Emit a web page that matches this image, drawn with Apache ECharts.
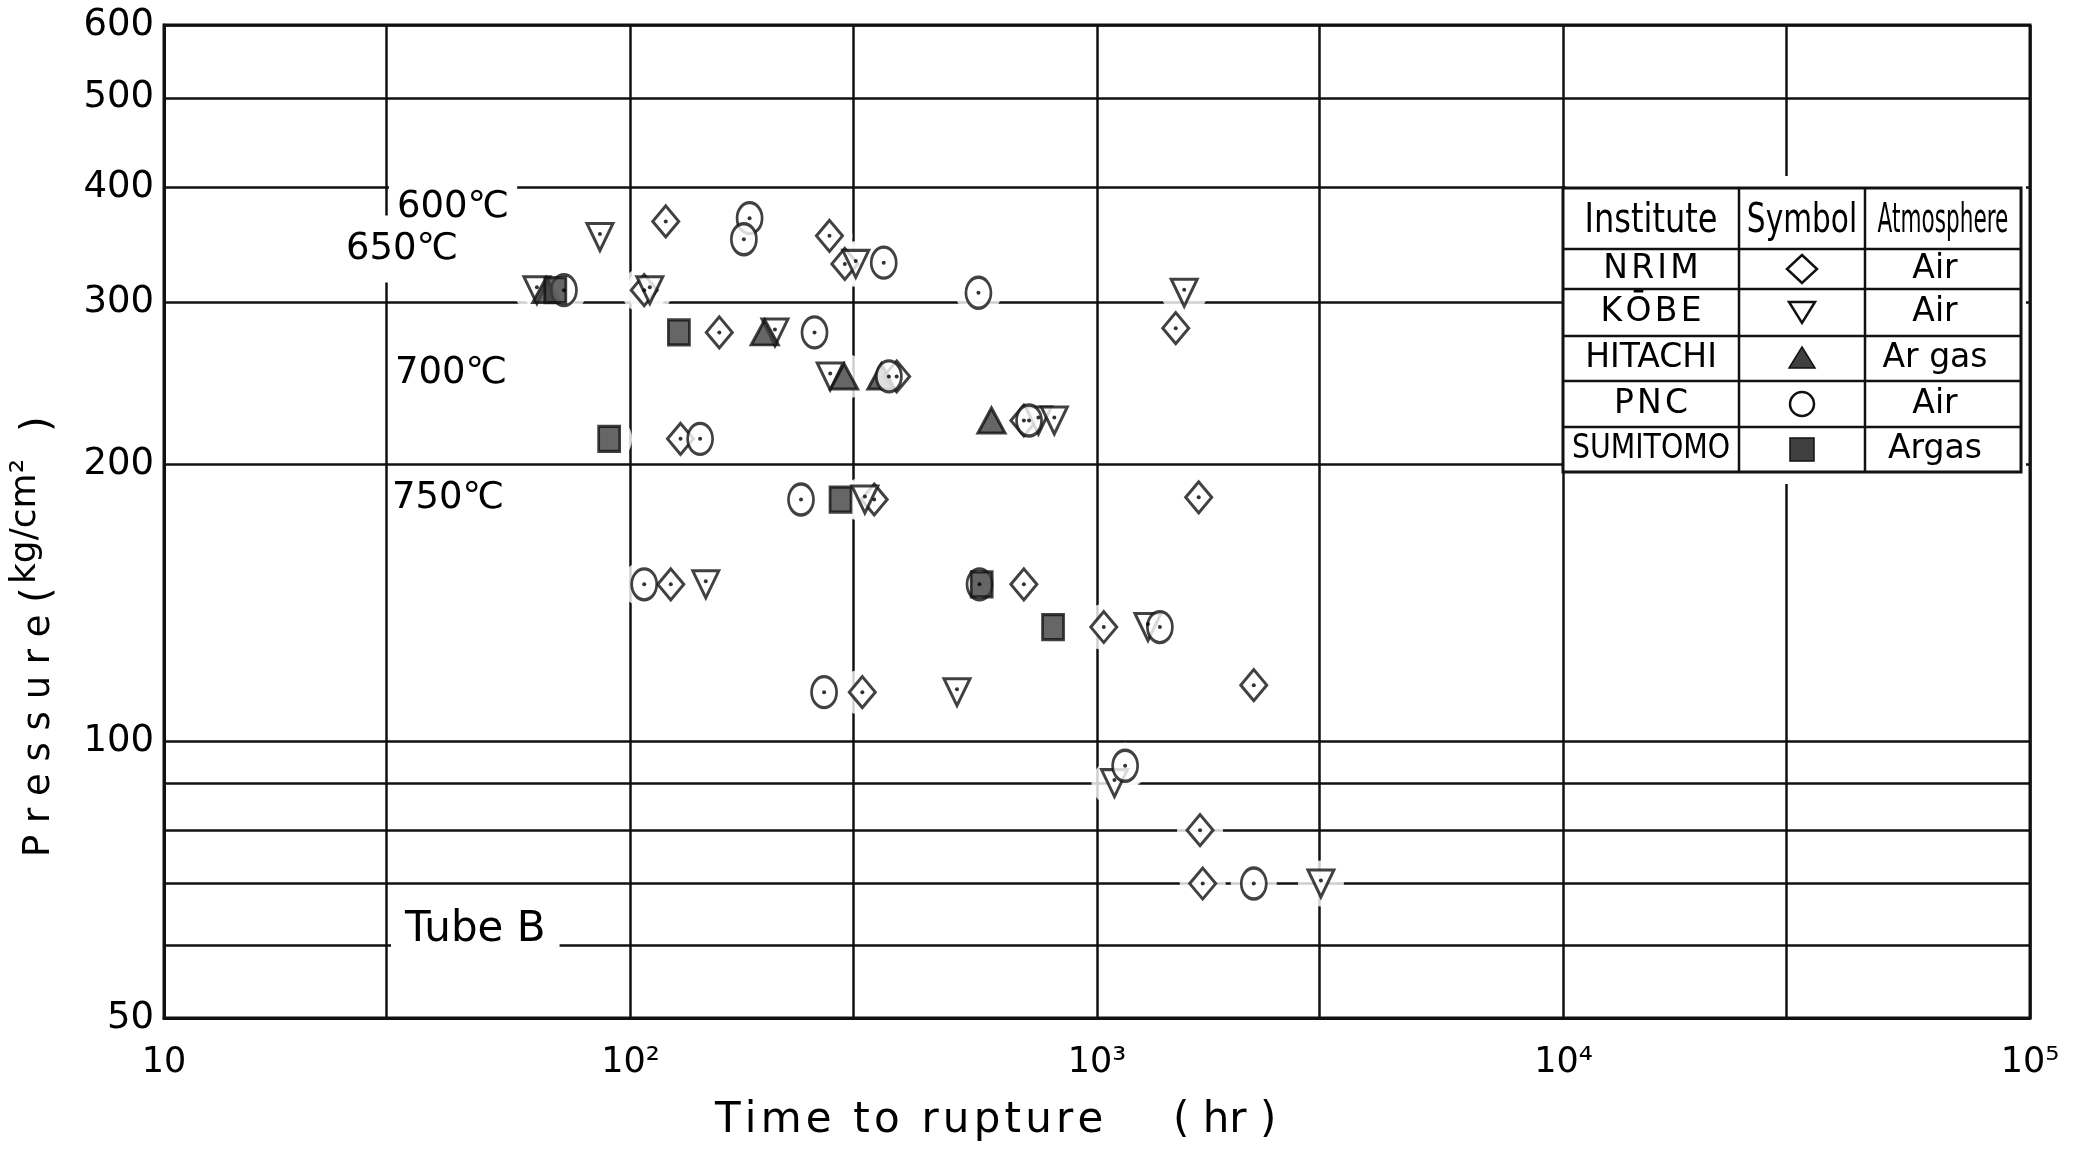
<!DOCTYPE html>
<html>
<head>
<meta charset="utf-8">
<script src="https://cdn.jsdelivr.net/npm/echarts@6/dist/echarts.min.js"></script>
<style>
  html, body { margin: 0; padding: 0; background: #fff; }
  #chart { width: 2076px; height: 1152px; }
</style>
</head>
<body>
<div id="chart"></div>
<script>
// time to rupture (hr), pressure (kg/cm2)
const nrim = [[119, 367], [267, 354], [288, 330], [107, 309], [1475, 281], [155, 278], [372, 249],
  [128, 213], [697, 223], [333, 183], [1652, 184], [122, 148], [697, 148], [1034, 133],
  [314, 113], [2168, 115], [1663, 80], [1685, 70]]
const kobe = [[86, 353], [304, 330], [63, 309], [110, 309], [1538, 307], [204, 278], [268, 249],
  [749, 223], [810, 223], [318, 183], [145, 148], [1286, 133], [501, 113], [1090, 90], [3020, 70]]
const hitachi = [[66, 309], [194, 278], [287, 249], [345, 249], [594, 223]]
const pnc = [[180, 370], [175, 351], [349, 331], [72, 309], [557, 307], [248, 278], [358, 249],
  [141, 213], [715, 223], [232, 183], [107, 148], [560, 148], [1364, 133], [260, 113],
  [1149, 94], [2168, 70]]
const sumitomo = [[69, 309], [127, 278], [90, 213], [282, 183], [566, 148], [805, 133]]

const xTickValues = [10, 30, 100, 300, 1000, 3000, 10000, 30000, 100000]
const xLabelValues = [10, 100, 1000, 10000, 100000]
const xTickLabels = ['10', '10²', '10³', '10⁴', '10⁵']
const yTickValues = [50, 60, 70, 80, 90, 100, 200, 300, 400, 500, 600]
const yLabelValues = [50, 100, 200, 300, 400, 500, 600]

const institutes = ['NRIM', 'KŌBE', 'HITACHI', 'PNC', 'SUMITOMO']
const atmospheres = ['Air', 'Air', 'Ar gas', 'Air', 'Argas']
// 650 first so that the 600 label sits on top of its white box
const tempLabels = [
  { text: '650℃', x: 346, y: 249, size: 37, pad: [15, 12] },
  { text: '600℃', x: 397, y: 207, size: 37, pad: [6, 8] },
  { text: '700℃', x: 395, y: 373, size: 37, pad: [6, 4] },
  { text: '750℃', x: 392, y: 498, size: 37, pad: [6, 3] },
  { text: 'Tube B', x: 405, y: 930, size: 42, pad: [6, 14] }
]

const FONT = 'DejaVu Sans'
const INK = '#111'
const FILL = '#404040'
const HS = '\u200a'

const chart = echarts.init(document.getElementById('chart'))

function marker(name, data, symbol, size, filled, rotate) {
  return {
    name: name,
    type: 'scatter',
    data: data,
    symbol: symbol,
    symbolSize: size,
    symbolRotate: rotate || 0,
    itemStyle: {
      color: filled ? FILL : '#fff',
      borderColor: INK,
      borderWidth: 3
    },
    z: 3
  }
}

function dots(data, offset) {
  return {
    type: 'scatter',
    data: data,
    symbol: 'circle',
    symbolSize: 4,
    symbolOffset: offset,
    itemStyle: { color: '#000' },
    silent: true,
    z: 4
  }
}

const allPoints = [].concat(nrim, kobe, hitachi, pnc, sumitomo)

// legend table, left edge sits on the 10^4 grid line
const tbl = { left: 1563, right: 2021, top: 188, bottom: 472 }
const colX = [1739, 1865]
const rowY = [249, 289, 336, 381, 427]
const rowMid = [269, 312, 358, 404, 449]
const symX = 1802
const col1 = (tbl.left + colX[0]) / 2

function txt(text, x, y, size, opts) {
  opts = opts || {}
  const pad = opts.pad || [0, 0]
  const left = (opts.align === 'left') ? x - pad[1] : x
  return {
    type: 'text',
    x: left,
    y: y,
    scaleX: opts.scaleX || 1,
    rotation: opts.rotation || 0,
    z: 20,
    style: {
      text: text,
      fontFamily: FONT,
      fontSize: size,
      fill: '#000',
      align: opts.align || 'center',
      verticalAlign: 'middle',
      textAlign: opts.align || 'center',
      textVerticalAlign: 'middle',
      backgroundColor: opts.bg,
      padding: opts.pad
    }
  }
}

function spaced(s) {
  return s.split('').join(HS)
}

const tableEls = [
  { type: 'rect', z: 15, shape: { x: 1566, y: 176, width: 460, height: 308 }, style: { fill: '#fff' } },
  { type: 'rect', z: 16, shape: { x: tbl.left, y: tbl.top, width: tbl.right - tbl.left, height: tbl.bottom - tbl.top },
    style: { fill: '#fff', stroke: INK, lineWidth: 3 } }
]
colX.forEach(x => tableEls.push({ type: 'line', z: 17, shape: { x1: x, y1: tbl.top, x2: x, y2: tbl.bottom }, style: { stroke: INK, lineWidth: 2.5 } }))
rowY.forEach(y => tableEls.push({ type: 'line', z: 17, shape: { x1: tbl.left, y1: y, x2: tbl.right, y2: y }, style: { stroke: INK, lineWidth: 2.5 } }))
tableEls.push(txt('Institute', col1, 222, 40, { scaleX: 0.8 }))
tableEls.push(txt('Symbol', 1802, 222, 40, { scaleX: 0.74 }))
tableEls.push(txt('Atmosphere', 1943, 222, 40, { scaleX: 0.54 }))
institutes.forEach((n, i) => {
  const short = n.length <= 4
  tableEls.push(txt(short ? spaced(n) : n, col1, rowMid[i], 33, { scaleX: n.length > 7 ? 0.86 : 1 }))
})
atmospheres.forEach((a, i) => tableEls.push(txt(a, 1935, rowMid[i], 33)))
// legend symbols
const sOut = { fill: '#fff', stroke: INK, lineWidth: 2.5 }
const sFill = { fill: FILL, stroke: INK, lineWidth: 1.5 }
tableEls.push({ type: 'polygon', z: 18, shape: { points: [[symX, rowMid[0] - 14], [symX + 15, rowMid[0]], [symX, rowMid[0] + 14], [symX - 15, rowMid[0]]] }, style: sOut })
tableEls.push({ type: 'polygon', z: 18, shape: { points: [[symX - 13, rowMid[1] - 10], [symX + 13, rowMid[1] - 10], [symX, rowMid[1] + 11]] }, style: sOut })
tableEls.push({ type: 'polygon', z: 18, shape: { points: [[symX, rowMid[2] - 11], [symX + 13, rowMid[2] + 10], [symX - 13, rowMid[2] + 10]] }, style: sFill })
tableEls.push({ type: 'circle', z: 18, shape: { cx: symX, cy: rowMid[3], r: 12 }, style: sOut })
tableEls.push({ type: 'rect', z: 18, shape: { x: symX - 12, y: rowMid[4] - 11, width: 24, height: 23 }, style: sFill })

const labelEls = tempLabels.map(t => txt(t.text, t.x, t.y, t.size, { align: 'left', bg: '#fff', pad: t.pad }))

const axisNameEls = [
  txt(spaced('Time to rupture'), 715, 1121, 42, { align: 'left' }),
  txt('( hr )', 1173, 1121, 42, { align: 'left' }),
  txt('P r e s s u r e', 39, 857, 37, { align: 'left', rotation: Math.PI / 2 }),
  txt('(', 39, 603, 40, { align: 'left', rotation: Math.PI / 2 }),
  txt('kg/cm²', 26, 584, 36, { align: 'left', rotation: Math.PI / 2 }),
  txt(')', 39, 432, 40, { align: 'left', rotation: Math.PI / 2 })
]

function nearestLabel(v) {
  const e = Math.round(Math.log10(v))
  return xTickLabels[e - 1] || ''
}

const option = {
  backgroundColor: '#fff',
  animation: false,
  grid: {
    left: 164, top: 25, width: 1866, height: 993,
    show: true, borderColor: INK, borderWidth: 3, backgroundColor: 'transparent'
  },
  xAxis: {
    type: 'log',
    logBase: 10,
    min: 10,
    max: 100000,
    axisLine: { show: true, lineStyle: { color: INK, width: 3 } },
    axisTick: { show: false, customValues: xTickValues },
    axisLabel: {
      customValues: xLabelValues,
      formatter: nearestLabel,
      color: '#000',
      fontFamily: FONT,
      fontSize: 35,
      margin: 27
    },
    splitLine: { show: true, lineStyle: { color: INK, width: 2.5 } }
  },
  yAxis: {
    type: 'log',
    logBase: 10,
    min: 50,
    max: 600,
    axisLine: { show: true, lineStyle: { color: INK, width: 3 } },
    axisTick: { show: false, customValues: yTickValues },
    axisLabel: {
      customValues: yLabelValues,
      formatter: v => String(Math.round(v)),
      color: '#000',
      fontFamily: FONT,
      fontSize: 37,
      margin: 10
    },
    splitLine: { show: true, lineStyle: { color: INK, width: 2.5 } }
  },
  series: [
    // white halo that breaks the grid lines around the marks
    {
      type: 'scatter',
      data: allPoints,
      symbol: 'circle',
      symbolSize: 46,
      itemStyle: { color: '#fff' },
      silent: true,
      z: 1
    },
    marker('NRIM', nrim, 'diamond', [26, 31], false),
    marker('KOBE', kobe, 'triangle', [26, 27], false, 180),
    marker('HITACHI', hitachi, 'triangle', [27, 25], true),
    marker('PNC', pnc, 'circle', [25, 31], false),
    marker('SUMITOMO', sumitomo, 'rect', [21, 25], true),
    dots(nrim, [0, 0]),
    dots(kobe, [0, -3]),
    dots(pnc, [0, 0])
  ],
  graphic: { elements: [].concat(tableEls, labelEls, axisNameEls) }
}

chart.setOption(option)
window.addEventListener('resize', () => chart.resize())
</script>
</body>
</html>
